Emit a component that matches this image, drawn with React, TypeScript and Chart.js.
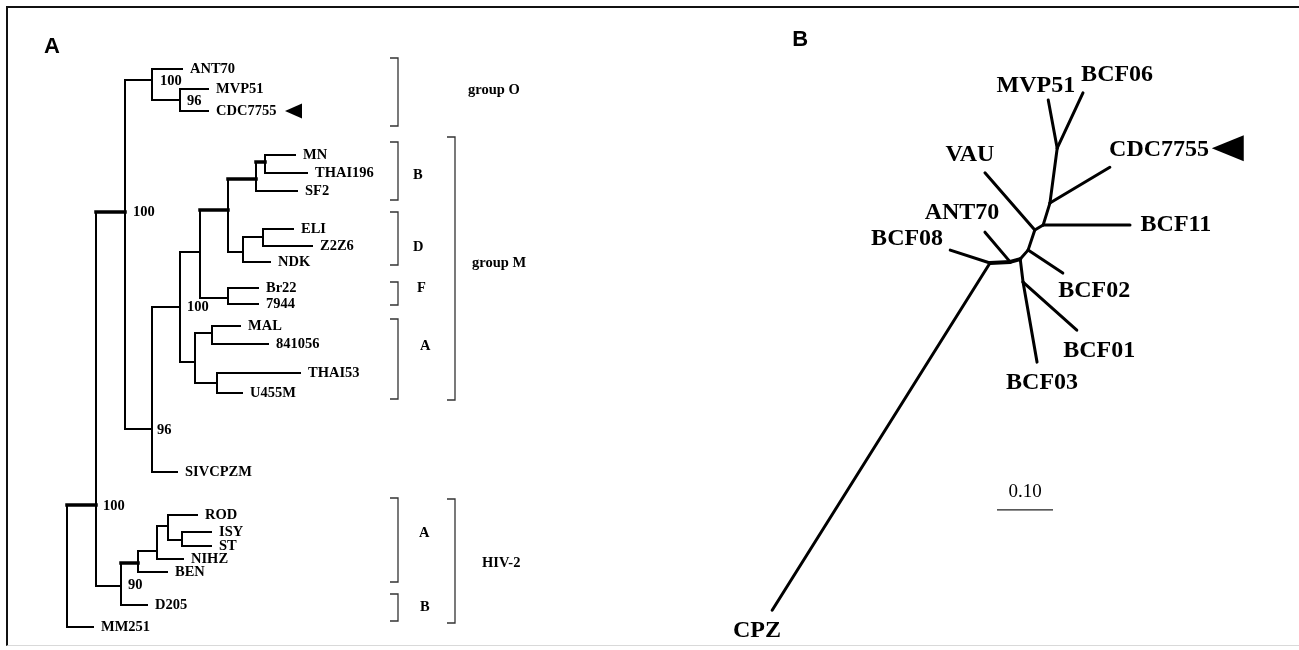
import React, { useEffect, useRef } from "react";
import { Chart, registerables } from "chart.js";
Chart.register(...registerables);

// ---------------- Panel A : rooted tree ----------------
// node names ("" = internal node), parent index, depth (branch-length units), row position
const treeNames = [
  "", "", "MM251", "", "", "", "ANT70", "", "MVP51", "CDC7755",
  "", "", "SIVCPZM", "", "", "", "", "", "", "",
  "SF2", "MN", "THAI196", "", "NDK", "ELI", "Z2Z6", "Br22", "7944", "",
  "", "MAL", "841056", "THAI53", "U455M", "", "D205", "", "BEN", "",
  "NIHZ", "ROD", "", "ISY", "ST",
];
const treeParent = [
  -1, 0, 0, 1, 1, 3, 5, 5, 7, 7,
  3, 10, 10, 11, 11, 13, 13, 15, 15, 17,
  17, 19, 19, 18, 18, 23, 23, 16, 16, 14,
  14, 29, 29, 30, 30, 4, 4, 35, 35, 37,
  37, 39, 39, 42, 42,
];
const treeDepth = [
  0.0, 0.29, 0.26, 0.58, 0.54, 0.85, 1.15, 1.13, 1.41, 1.41,
  0.85, 1.13, 1.1, 1.33, 1.28, 1.61, 1.61, 1.89, 1.76, 1.98,
  2.3, 2.28, 2.4, 1.96, 2.03, 2.26, 2.45, 1.91, 1.91, 1.45,
  1.5, 1.73, 2.01, 2.33, 1.75, 0.71, 0.8, 0.9, 1.0, 1.01,
  1.16, 1.3, 1.15, 1.44, 1.44,
];
const treeRow = [
  56.6, 50.5, 62.7, 21.2, 58.6, 8.0, 6.9, 10.0, 8.9, 11.1,
  42.9, 30.7, 47.2, 25.2, 36.2, 21.0, 29.8, 17.9, 25.2, 16.2,
  19.1, 15.5, 17.3, 23.7, 26.2, 22.9, 24.6, 28.8, 30.4, 33.3,
  38.3, 32.6, 34.4, 37.3, 39.3, 56.3, 60.5, 55.1, 57.2, 52.6,
  55.9, 51.5, 54.0, 53.2, 54.6,
];
const treeThick = [
  0, 1, 0, 1, 0, 0, 0, 0, 0, 0,
  0, 0, 0, 0, 0, 1, 0, 1, 0, 1,
  0, 0, 0, 0, 0, 0, 0, 0, 0, 0,
  0, 0, 0, 0, 0, 1, 0, 0, 0, 0,
  0, 0, 0, 0, 0,
];

// bootstrap values
const bootText = ["100", "96", "100", "100", "96", "100", "90"];
const bootDepth = [0.93, 1.2, 0.66, 1.2, 0.9, 0.36, 0.61];
const bootRow = [8.1, 10.1, 21.2, 30.7, 43.0, 50.6, 58.5];

// subtype / group brackets
const bracketDepth = [3.31, 3.31, 3.31, 3.31, 3.31, 3.88, 3.31, 3.31, 3.88];
const bracketTop = [5.8, 14.2, 21.2, 28.2, 31.9, 13.7, 49.8, 59.4, 49.9];
const bracketBottom = [12.6, 20.0, 26.5, 30.5, 39.9, 40.0, 58.2, 62.1, 62.3];
const bracketLabel = ["group O", "B", "D", "F", "A", "group M", "A", "B", "HIV-2"];
const bracketLabelDepth = [4.01, 3.46, 3.46, 3.5, 3.53, 4.05, 3.52, 3.53, 4.15];
const bracketLabelRow = [9.0, 17.5, 24.7, 28.8, 34.6, 26.3, 53.3, 60.7, 56.3];

// ---------------- Panel B : unrooted tree ----------------
const bNodeX = [
  0.0, 0.036, 0.054, 0.068, 0.08, 0.095, 0.107, 0.12, 0.059,
  -0.389, -0.071, -0.009, 0.084, 0.155, 0.13, -0.009, 0.25, 0.214, 0.104, 0.166,
];
const bNodeY = [
  0.0, 0.002, 0.007, 0.023, 0.059, 0.068, 0.107, 0.205, -0.034,
  -0.62, 0.023, 0.055, -0.177, -0.12, -0.018, 0.161, 0.068, 0.171, 0.291, 0.304,
];
const bEdgeFrom = [0, 0, 0, 1, 1, 2, 8, 8, 2, 3, 3, 4, 4, 5, 5, 6, 6, 7, 7];
const bEdgeTo = [9, 10, 1, 11, 2, 8, 12, 13, 3, 14, 4, 15, 5, 16, 6, 17, 7, 18, 19];
const bEdgeThick = [0, 0, 1, 0, 1, 0, 0, 0, 0, 0, 0, 0, 0, 0, 0, 0, 0, 0, 0];

const bLabelText = ["MVP51", "BCF06", "VAU", "CDC7755", "BCF11", "ANT70", "BCF08", "BCF02", "BCF01", "BCF03", "CPZ"];
const bLabelX = [0.082, 0.227, -0.036, 0.302, 0.332, -0.05, -0.148, 0.186, 0.195, 0.093, -0.416];
const bLabelY = [0.316, 0.336, 0.193, 0.202, 0.068, 0.089, 0.043, -0.05, -0.157, -0.214, -0.657];

const scaleBarStart = 0.0125;
const scaleBarLength = 0.1;
const scaleBarY = -0.441;
const scaleBarText = "0.10";

// ---------------- layout constants ----------------
const W = 1299;
const H = 650;
const A_WIDTH = 640;
const A_PX_PER_DEPTH = 100;
const A_PX_PER_ROW = 10;
const A_ORIGIN_PX = 67;
const B_LEFT = 640;
const B_PX_PER_UNIT = 560;
const B_ORIGIN_X = 990;
const B_ORIGIN_Y = 263;

const SERIF_BOLD = (s: number) => `bold ${s}px "Liberation Serif", "Times New Roman", serif`;
const SANS_BOLD = (s: number) => `bold ${s}px "Liberation Sans", Arial, sans-serif`;

type TextItem = { text: string; x: number; y: number; font: string; align: CanvasTextAlign };
type Tri = { x: number; y: number; w: number; h: number };

function overlayPlugin(texts: TextItem[], tris: Tri[]) {
  return {
    id: "overlay",
    afterDatasetsDraw(chart: any) {
      const ctx = chart.ctx;
      const xs = chart.scales.x;
      const ys = chart.scales.y;
      ctx.save();
      ctx.fillStyle = "#000";
      for (const t of texts) {
        ctx.font = t.font;
        ctx.textAlign = t.align;
        ctx.textBaseline = "middle";
        ctx.fillText(t.text, xs.getPixelForValue(t.x), ys.getPixelForValue(t.y));
      }
      for (const tr of tris) {
        const px = xs.getPixelForValue(tr.x);
        const py = ys.getPixelForValue(tr.y);
        ctx.beginPath();
        ctx.moveTo(px, py);
        ctx.lineTo(px + tr.w, py - tr.h / 2);
        ctx.lineTo(px + tr.w, py + tr.h / 2);
        ctx.closePath();
        ctx.fill();
      }
      ctx.restore();
    },
  };
}

function seg(points: { x: number; y: number }[], width: number, color = "#000", cap: CanvasLineCap = "square") {
  return {
    data: points,
    showLine: true,
    borderColor: color,
    borderWidth: width,
    pointRadius: 0,
    pointHoverRadius: 0,
    borderCapStyle: cap,
    borderJoinStyle: "miter",
    tension: 0,
    fill: false,
  };
}

function baseOptions(xmin: number, xmax: number, ymin: number, ymax: number, reverseY: boolean) {
  return {
    animation: false,
    responsive: false,
    events: [],
    layout: { padding: 0 },
    plugins: { legend: { display: false }, tooltip: { enabled: false }, title: { display: false } },
    scales: {
      x: { type: "linear", display: false, min: xmin, max: xmax },
      y: { type: "linear", display: false, min: ymin, max: ymax, reverse: reverseY },
    },
  };
}

function buildA() {
  const ds: any[] = [];
  for (let i = 0; i < treeNames.length; i++) {
    const p = treeParent[i];
    if (p < 0) continue;
    ds.push(seg([{ x: treeDepth[p], y: treeRow[i] }, { x: treeDepth[i], y: treeRow[i] }], treeThick[i] ? 3.5 : 2));
  }
  for (let i = 0; i < treeNames.length; i++) {
    const kids = treeParent.map((p, j) => (p === i ? j : -1)).filter((j) => j >= 0);
    if (!kids.length) continue;
    const rows = kids.map((k) => treeRow[k]);
    ds.push(seg([{ x: treeDepth[i], y: Math.min(...rows) }, { x: treeDepth[i], y: Math.max(...rows) }], 2));
  }
  const tick = 0.08;
  for (let b = 0; b < bracketDepth.length; b++) {
    const d = bracketDepth[b];
    ds.push(
      seg(
        [
          { x: d - tick, y: bracketTop[b] },
          { x: d, y: bracketTop[b] },
          { x: d, y: bracketBottom[b] },
          { x: d - tick, y: bracketBottom[b] },
        ],
        1.3,
        "#333",
        "butt"
      )
    );
  }
  const texts: TextItem[] = [];
  const gap = 0.08;
  for (let i = 0; i < treeNames.length; i++) {
    if (!treeNames[i]) continue;
    texts.push({ text: treeNames[i], x: treeDepth[i] + gap, y: treeRow[i], font: SERIF_BOLD(14.5), align: "left" });
  }
  for (let i = 0; i < bootText.length; i++) {
    texts.push({ text: bootText[i], x: bootDepth[i], y: bootRow[i], font: SERIF_BOLD(14.5), align: "left" });
  }
  for (let i = 0; i < bracketLabel.length; i++) {
    texts.push({ text: bracketLabel[i], x: bracketLabelDepth[i], y: bracketLabelRow[i], font: SERIF_BOLD(14.5), align: "left" });
  }
  texts.push({ text: "A", x: -0.15, y: 4.7, font: SANS_BOLD(22), align: "center" });
  const cdc = treeNames.indexOf("CDC7755");
  const tris: Tri[] = [{ x: treeDepth[cdc] + 0.77, y: treeRow[cdc], w: 17, h: 15 }];
  const xmin = -A_ORIGIN_PX / A_PX_PER_DEPTH;
  return {
    datasets: ds,
    options: baseOptions(xmin, xmin + A_WIDTH / A_PX_PER_DEPTH, 0, H / A_PX_PER_ROW, true),
    plugin: overlayPlugin(texts, tris),
  };
}

function buildB() {
  const ds: any[] = [];
  for (let e = 0; e < bEdgeFrom.length; e++) {
    const a = bEdgeFrom[e];
    const b = bEdgeTo[e];
    ds.push(seg([{ x: bNodeX[a], y: bNodeY[a] }, { x: bNodeX[b], y: bNodeY[b] }], bEdgeThick[e] ? 4 : 3, "#000", "round"));
  }
  ds.push(
    seg(
      [
        { x: scaleBarStart, y: scaleBarY },
        { x: scaleBarStart + scaleBarLength, y: scaleBarY },
      ],
      1.3,
      "#222",
      "butt"
    )
  );
  const texts: TextItem[] = [];
  for (let i = 0; i < bLabelText.length; i++) {
    texts.push({ text: bLabelText[i], x: bLabelX[i], y: bLabelY[i], font: SERIF_BOLD(24), align: "center" });
  }
  texts.push({
    text: scaleBarText,
    x: scaleBarStart + scaleBarLength / 2,
    y: scaleBarY + 0.032,
    font: `19px "Liberation Serif", "Times New Roman", serif`,
    align: "center",
  });
  texts.push({ text: "B", x: -0.339, y: 0.398, font: SANS_BOLD(22), align: "center" });
  const ci = bLabelText.indexOf("CDC7755");
  const tris: Tri[] = [{ x: bLabelX[ci] + 0.094, y: bLabelY[ci] + 0.003, w: 32, h: 26 }];
  const xmin = -(B_ORIGIN_X - B_LEFT) / B_PX_PER_UNIT;
  const xmax = xmin + (W - B_LEFT) / B_PX_PER_UNIT;
  const ymax = B_ORIGIN_Y / B_PX_PER_UNIT;
  const ymin = ymax - H / B_PX_PER_UNIT;
  return { datasets: ds, options: baseOptions(xmin, xmax, ymin, ymax, false), plugin: overlayPlugin(texts, tris) };
}

export default function App() {
  const refA = useRef<HTMLCanvasElement | null>(null);
  const refB = useRef<HTMLCanvasElement | null>(null);

  useEffect(() => {
    const a = buildA();
    const b = buildB();
    const chartA = new Chart(refA.current as HTMLCanvasElement, {
      type: "scatter",
      data: { datasets: a.datasets },
      options: a.options as any,
      plugins: [a.plugin as any],
    });
    const chartB = new Chart(refB.current as HTMLCanvasElement, {
      type: "scatter",
      data: { datasets: b.datasets },
      options: b.options as any,
      plugins: [b.plugin as any],
    });
    return () => {
      chartA.destroy();
      chartB.destroy();
    };
  }, []);

  return (
    <div style={{ position: "fixed", left: 0, top: 0, width: W, height: H, overflow: "hidden", background: "#fff" }}>
      <div
        style={{
          position: "absolute",
          left: 6,
          top: 6,
          width: W + 50,
          height: H - 4 - 6,
          boxSizing: "border-box",
          borderTop: "2px solid #111",
          borderLeft: "2px solid #111",
          borderBottom: "1px solid #d9d9d9",
        }}
      />
      <canvas
        ref={refA}
        width={A_WIDTH}
        height={H}
        style={{ position: "absolute", left: 0, top: 0, width: A_WIDTH, height: H }}
      />
      <canvas
        ref={refB}
        width={W - B_LEFT}
        height={H}
        style={{ position: "absolute", left: B_LEFT, top: 0, width: W - B_LEFT, height: H }}
      />
    </div>
  );
}
